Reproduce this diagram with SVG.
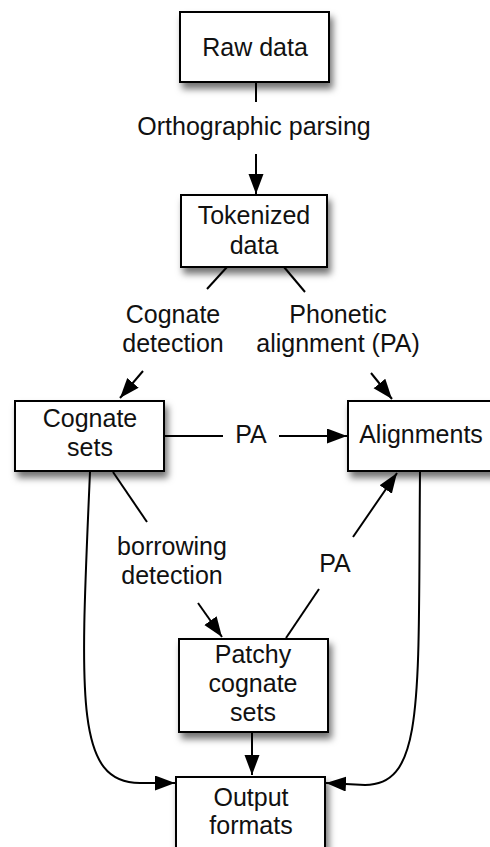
<svg xmlns="http://www.w3.org/2000/svg" width="490" height="847" viewBox="0 0 490 847">
<style>
.box{fill:#fff;stroke:#000;stroke-width:2;filter:url(#sh)}
text{font-family:"Liberation Sans",Helvetica,Arial,sans-serif;font-size:25px;fill:#111;text-anchor:middle}
.c{fill:none;stroke:#000;stroke-width:2}
.a{marker-end:url(#ah)}
</style>
<defs>
<filter id="sh" x="-20%" y="-20%" width="150%" height="160%">
<feDropShadow dx="3" dy="6" stdDeviation="3.5" flood-color="#000" flood-opacity="0.55"/>
</filter>
<marker id="ah" markerUnits="userSpaceOnUse" markerWidth="22" markerHeight="16" refX="20" refY="7.5" orient="auto">
<path d="M0,0 L20,7.5 L0,15 z" fill="#000"/>
</marker>
</defs>
<rect width="490" height="847" fill="#fff"/>
<g id="connectors">
<line class="c" x1="256" y1="82" x2="256" y2="102"/>
<line class="c a" x1="256" y1="154" x2="256" y2="194"/>
<line class="c" x1="227" y1="267" x2="207" y2="289"/>
<line class="c a" x1="143" y1="371" x2="120" y2="398"/>
<line class="c" x1="284" y1="267" x2="305" y2="292"/>
<line class="c a" x1="371" y1="373" x2="392" y2="399"/>
<line class="c" x1="165" y1="436" x2="223" y2="436"/>
<line class="c a" x1="279" y1="436" x2="347" y2="436"/>
<line class="c" x1="113" y1="472" x2="147" y2="522"/>
<line class="c a" x1="198" y1="603" x2="222" y2="637"/>
<line class="c" x1="286" y1="638" x2="319" y2="589"/>
<line class="c a" x1="353" y1="537" x2="397" y2="473"/>
<line class="c a" x1="252" y1="733" x2="252" y2="775"/>
<path class="c a" d="M90,472 C80,700 75,783 140,783 L175,783"/>
<path class="c a" d="M420,472 C418,700 425,785 365,785 L326,783"/>
</g>
<g id="raw"><rect class="box" x="180" y="12" width="149" height="70"/><text x="255" y="56">Raw data</text></g>
<g id="tokenized"><rect class="box" x="181" y="195" width="146" height="72"/><text x="254" y="224">Tokenized</text><text x="254" y="254">data</text></g>
<g id="cognate"><rect class="box" x="15" y="401" width="149" height="70"/><text x="90" y="427">Cognate</text><text x="90" y="456">sets</text></g>
<g id="alignments"><rect class="box" x="348" y="401" width="149" height="70"/><text x="421" y="443">Alignments</text></g>
<g id="patchy"><rect class="box" x="179" y="639" width="149" height="93"/><text x="253" y="663">Patchy</text><text x="253" y="692">cognate</text><text x="253" y="721">sets</text></g>
<g id="output"><rect class="box" x="176" y="777" width="149" height="93"/><text x="251" y="806">Output</text><text x="251" y="834">formats</text></g>
<g id="labels">
<text x="254" y="135">Orthographic parsing</text>
<text x="173" y="323">Cognate</text><text x="173" y="352">detection</text>
<text x="338" y="323">Phonetic</text><text x="338" y="352">alignment (PA)</text>
<text x="251" y="443">PA</text>
<text x="172" y="555">borrowing</text><text x="172" y="584">detection</text>
<text x="335" y="572">PA</text>
</g>
</svg>
